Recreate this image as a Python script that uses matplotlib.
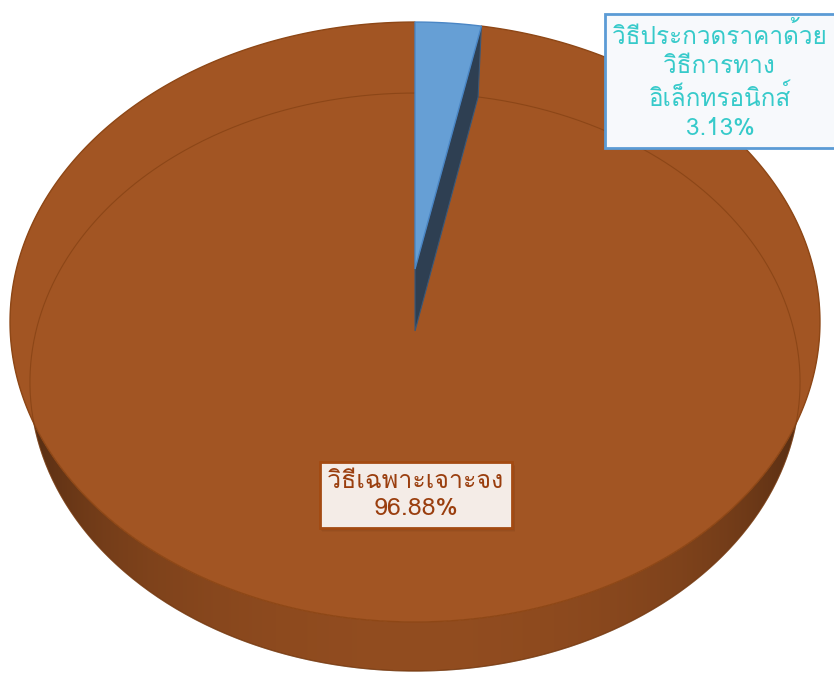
import numpy as np
import matplotlib
matplotlib.use("Agg")
import matplotlib.pyplot as plt
from matplotlib.patches import Polygon, Rectangle
from matplotlib import font_manager as fm

# ---- data ----
categories = ["วิธีประกวดราคาด้วย\nวิธีการทาง\nอิเล็กทรอนิกส์", "วิธีเฉพาะเจาะจง"]
values = [3.13, 96.88]
colors = ["#669FD5", "#A25523"]
label_colors = ["#36CACA", "#9A3E0E"]

# ---- find a font with Thai glyphs ----
def find_thai_font():
    try:
        from fontTools.ttLib import TTFont
    except Exception:
        return None
    for path in sorted(fm.findSystemFonts()):
        try:
            f = TTFont(path, fontNumber=0, lazy=True)
            cmap = f.getBestCmap()
            if cmap and 0x0E27 in cmap and 0x0E34 in cmap and 0x0E0D in cmap:
                return path
        except Exception:
            continue
    return None

thai_path = find_thai_font()
families = ["DejaVu Sans"]
if thai_path:
    fm.fontManager.addfont(thai_path)
    families = [fm.FontProperties(fname=thai_path).get_name(), "DejaVu Sans"]
plt.rcParams["font.family"] = families

# ---- perspective geometry of the 3D pie ----
CX = 415.0
K = -0.1767

def proj_top(u, v):
    d = 1 + K * v
    return CX + 398.6 * u / d, 269.0 + 290.6 * v / d

def proj_bot(u, v):
    d = 1 + K * v
    return CX + 379.0 * u / d, 331.0 + 280.0 * v / d

def ang_uv(a_deg):
    a = np.radians(a_deg)
    return np.sin(a), -np.cos(a)

fig = plt.figure(figsize=(8.34, 6.74), dpi=100)
ax = fig.add_axes([0, 0, 1, 1])
ax.set_xlim(0, 834)
ax.set_ylim(674, 0)
ax.axis("off")

total = sum(values)
bounds = np.concatenate([[0], np.cumsum(values) / total * 360.0])

def shade(hexc, f):
    c = np.array(matplotlib.colors.to_rgb(hexc))
    return np.clip(c * f, 0, 1)

# side wall: one polygon filled with a horizontal shading gradient
front = np.linspace(75, 285, 400)
wall_pts = [proj_top(*ang_uv(t)) for t in front] + [proj_bot(*ang_uv(t)) for t in front[::-1]]
wall = Polygon(wall_pts, closed=True, fc="none", ec="none")
ax.add_patch(wall)
xs = np.linspace(0, 834, 834)
uu = np.clip((xs - CX) / 392.0, -1, 1)
vv = np.sqrt(1 - uu ** 2)
fac = 0.40 + 0.50 * vv ** 0.9
row = np.array([shade(colors[1], f) for f in fac])
img = np.repeat(row[None, :, :], 2, axis=0)
im = ax.imshow(img, extent=(0, 834, 674, 0), aspect="auto", interpolation="bilinear", zorder=1)
im.set_clip_path(wall)
ax.set_xlim(0, 834)
ax.set_ylim(674, 0)
bx_front = [proj_bot(*ang_uv(t))[0] for t in front]
by_front = [proj_bot(*ang_uv(t))[1] for t in front]
ax.plot(bx_front, by_front, color="#6A3510", lw=0.8, alpha=0.6, zorder=1.5)

# top faces (big slice first)
def top_poly(a_start, a_end):
    ts = np.linspace(a_start, a_end, max(int((a_end - a_start) * 2), 4))
    pts = [proj_top(0, 0)]
    for t in ts:
        pts.append(proj_top(*ang_uv(t)))
    return pts

ax.add_patch(Polygon(top_poly(bounds[1], bounds[2]), closed=True, fc=colors[1],
                     ec="#8E4716", lw=1.0, zorder=2))

# bottom edge seen through the top
tt = np.linspace(0, 360, 721)
bx, by = zip(*[proj_bot(*ang_uv(t)) for t in tt])
ax.plot(bx, by, color="#7A3A0E", lw=0.8, alpha=0.55, zorder=2.1)

# cut face of the small slice
ue, ve = ang_uv(bounds[1])
cut = [proj_top(0, 0), proj_top(ue, ve), proj_bot(ue, ve), proj_bot(0, 0)]
ax.add_patch(Polygon(cut, closed=True, fc="#2E3F52", ec="#3A5878", lw=0.8, zorder=2.2))

ax.add_patch(Polygon(top_poly(bounds[0], bounds[1]), closed=True, fc=colors[0],
                     ec="#4A86C5", lw=1.0, zorder=2.3))

# ---- labels ----
ax.text(720, 81, f"{categories[0]}\n{values[0]:.2f}%", ha="center", va="center",
        fontsize=17.5, color=label_colors[0], linespacing=1.33, zorder=5,
        bbox=dict(boxstyle="square,pad=0.3", fc="#F7F9FC", ec="#5B9BD5", lw=2))
t2 = ax.text(416, 495, f"{categories[1]}\n{values[1]:.2f}%", ha="center", va="center",
             fontsize=18, color=label_colors[1], linespacing=1.25, zorder=5,
             bbox=dict(boxstyle="square,pad=0.3", fc="#F4ECE7", ec="#A34A12", lw=2))

# soft shadow behind the lower label
fig.canvas.draw()
bb = t2.get_bbox_patch().get_window_extent()
inv = ax.transData.inverted()
(x0, y0), (x1, y1) = inv.transform([[bb.x0, bb.y0], [bb.x1, bb.y1]])
lx, rx = min(x0, x1), max(x0, x1)
ty, byy = min(y0, y1), max(y0, y1)
for off, al in [(7, 0.04), (5, 0.06), (3, 0.09)]:
    ax.add_patch(Rectangle((lx - 1 + off * 0.4, ty + off * 0.5), rx - lx + 2, byy - ty + 1,
                           fc="#3A1A05", ec="none", alpha=al, zorder=4))

fig.savefig("out.png", dpi=100)
